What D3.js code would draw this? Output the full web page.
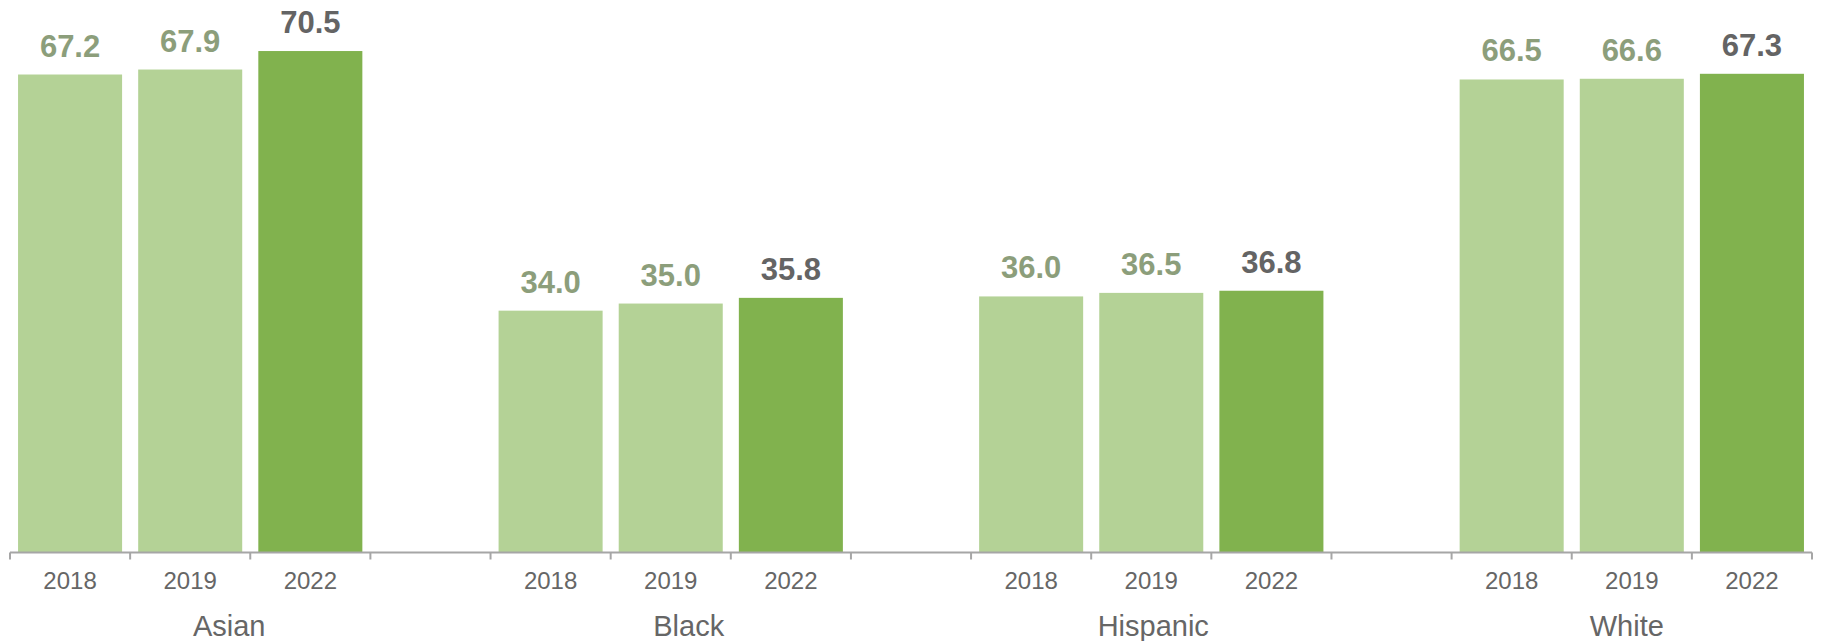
<!DOCTYPE html>
<html>
<head>
<meta charset="utf-8">
<script src="https://cdn.jsdelivr.net/npm/d3@7"></script>
<style>
  html, body { margin: 0; padding: 0; background: #fff; }
  svg { display: block; font-family: "Liberation Sans", Arial, sans-serif; }
</style>
</head>
<body>
<svg id="chart" width="1823" height="641"></svg>
<script>
const groups = ["Asian", "Black", "Hispanic", "White"];
const years = ["2018", "2019", "2022"];
const values2018 = [67.2, 34.0, 36.0, 66.5];
const values2019 = [67.9, 35.0, 36.5, 66.6];
const values2022 = [70.5, 35.8, 36.8, 67.3];

const WIDTH = 1823;
const HEIGHT = 641;
const AXIS_Y = 552.5;
const LIGHT_BAR = "#b4d296";
const DARK_BAR = "#81b24e";
const LIGHT_LABEL = "#8c9e7b";
const DARK_LABEL = "#646464";
const AXIS_COLOR = "#a6a6a6";
const TEXT_COLOR = "#666666";
// excel puts the group captions a little off the group centre
const labelNudge = [39, 18, 2, -5];

const seriesByYear = { "2018": values2018, "2019": values2019, "2022": values2022 };

// one slot per bar, plus an empty slot between groups
const slots = [];
groups.forEach((g, gi) => {
    years.forEach(yr => slots.push({ key: g + "-" + yr, group: g, gi: gi, year: yr, value: seriesByYear[yr][gi] }));
    if (gi < groups.length - 1) slots.push({ key: "gap-" + gi, group: null });
});
const bars = slots.filter(d => d.group);

const svg = d3.select("#chart");

const x = d3.scaleBand()
    .domain(slots.map(d => d.key))
    .range([10, 1812])
    .padding(0);

const y = d3.scaleLinear()
    .domain([0, 80])
    .range([AXIS_Y, AXIS_Y - 80 * 7.113]);

const step = x.step();
const barPad = step * 0.067;

svg.append("g")
    .selectAll("rect")
    .data(bars)
    .join("rect")
    .attr("x", d => x(d.key) + barPad)
    .attr("width", step - 2 * barPad)
    .attr("y", d => y(d.value))
    .attr("height", d => y(0) - y(d.value))
    .attr("fill", d => d.year === "2022" ? DARK_BAR : LIGHT_BAR);

svg.append("g")
    .selectAll("text")
    .data(bars)
    .join("text")
    .attr("x", d => x(d.key) + step / 2)
    .attr("y", d => y(d.value) - 18)
    .attr("text-anchor", "middle")
    .attr("font-size", 31)
    .attr("font-weight", "bold")
    .attr("fill", d => d.year === "2022" ? DARK_LABEL : LIGHT_LABEL)
    .text(d => d3.format(".1f")(d.value));

// category axis
const axis = svg.append("g");
axis.append("line")
    .attr("x1", x.range()[0])
    .attr("x2", x.range()[1])
    .attr("y1", AXIS_Y)
    .attr("y2", AXIS_Y)
    .attr("stroke", AXIS_COLOR)
    .attr("stroke-width", 2);

const boundaries = slots.map(d => x(d.key)).concat([x.range()[1]]);
axis.selectAll("line.tick")
    .data(boundaries)
    .join("line")
    .attr("class", "tick")
    .attr("x1", d => d)
    .attr("x2", d => d)
    .attr("y1", AXIS_Y)
    .attr("y2", AXIS_Y + 7)
    .attr("stroke", AXIS_COLOR)
    .attr("stroke-width", 2);

axis.selectAll("text.year")
    .data(bars)
    .join("text")
    .attr("class", "year")
    .attr("x", d => x(d.key) + step / 2)
    .attr("y", 589)
    .attr("text-anchor", "middle")
    .attr("font-size", 24)
    .attr("fill", TEXT_COLOR)
    .text(d => d.year);

axis.selectAll("text.group")
    .data(groups)
    .join("text")
    .attr("class", "group")
    .attr("x", (g, i) => {
        const first = x(g + "-" + years[0]);
        const last = x(g + "-" + years[years.length - 1]) + step;
        return (first + last) / 2 + labelNudge[i];
    })
    .attr("y", 636)
    .attr("text-anchor", "middle")
    .attr("font-size", 29)
    .attr("fill", TEXT_COLOR)
    .text(g => g);
</script>
</body>
</html>
